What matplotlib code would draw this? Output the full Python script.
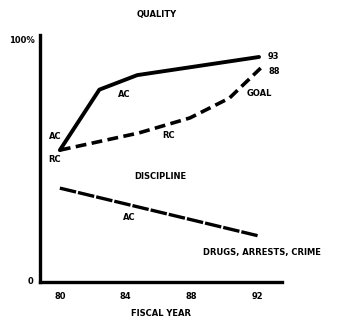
import matplotlib
matplotlib.use('Agg')
import matplotlib.pyplot as plt

# data (fiscal year, percent)
ac_years = [80, 82.4, 84.7, 92.1]
ac_quality = [54.5, 79.5, 85.5, 93]
rc_years = [80, 84.8, 87.9, 90.3, 92.2]
rc_quality = [54.5, 61.6, 67.8, 76, 88.4]
disc_years = [80, 92.1]
disc_rate = [38.8, 19]
tick_years = [80, 84, 88, 92]
tick_labels = ['80', '84', '88', '92']

fig = plt.figure(figsize=(3.37, 3.26), dpi=100)
ax = fig.add_axes([0.119, 0.135, 0.718, 0.757])

ax.plot(ac_years, ac_quality, color='black', lw=2.8, solid_capstyle='round')
ax.plot(rc_years, rc_quality, color='black', lw=2.6, dashes=(3, 1.5))
ax.plot(disc_years, disc_rate, color='black', lw=2.4, dashes=(5, 0.6))

ax.set_xlim(78.8, 93.5)
ax.set_ylim(0, 102)
ax.set_xticks(tick_years)
ax.set_xticklabels(tick_labels, fontsize=6, fontweight='bold')
ax.set_yticks([])
ax.tick_params(length=0, pad=7)
for s in ['top', 'right']:
    ax.spines[s].set_visible(False)
for s in ['left', 'bottom']:
    ax.spines[s].set_linewidth(2.4)

fs = 6
kw = dict(fontsize=fs, fontweight='bold', color='black')
ax.set_xlabel('FISCAL YEAR', labelpad=6, **kw)
fig.text(0.465, 0.955, 'QUALITY', ha='center', va='center', **kw)
fig.text(0.065, 0.875, '100%', ha='center', va='center', **kw)
fig.text(0.09, 0.138, '0', ha='center', va='center', **kw)

ax.text(79.7, 60, 'AC', ha='center', va='center', **kw)
ax.text(83.9, 77.5, 'AC', ha='center', va='center', **kw)
ax.text(86.6, 60.5, 'RC', ha='center', va='center', **kw)
ax.text(93.0, 93, '93', ha='center', va='center', **kw)
ax.text(93.0, 87, '88', ha='center', va='center', **kw)
ax.text(92.1, 78, 'GOAL', ha='center', va='center', **kw)
ax.text(79.7, 50.5, 'RC', ha='center', va='center', **kw)
ax.text(86.1, 43.5, 'DISCIPLINE', ha='center', va='center', **kw)
ax.text(84.2, 26.5, 'AC', ha='center', va='center', **kw)
ax.text(92.3, 12, 'DRUGS, ARRESTS, CRIME', ha='center', va='center', **kw)

fig.savefig('out.png', dpi=100)
